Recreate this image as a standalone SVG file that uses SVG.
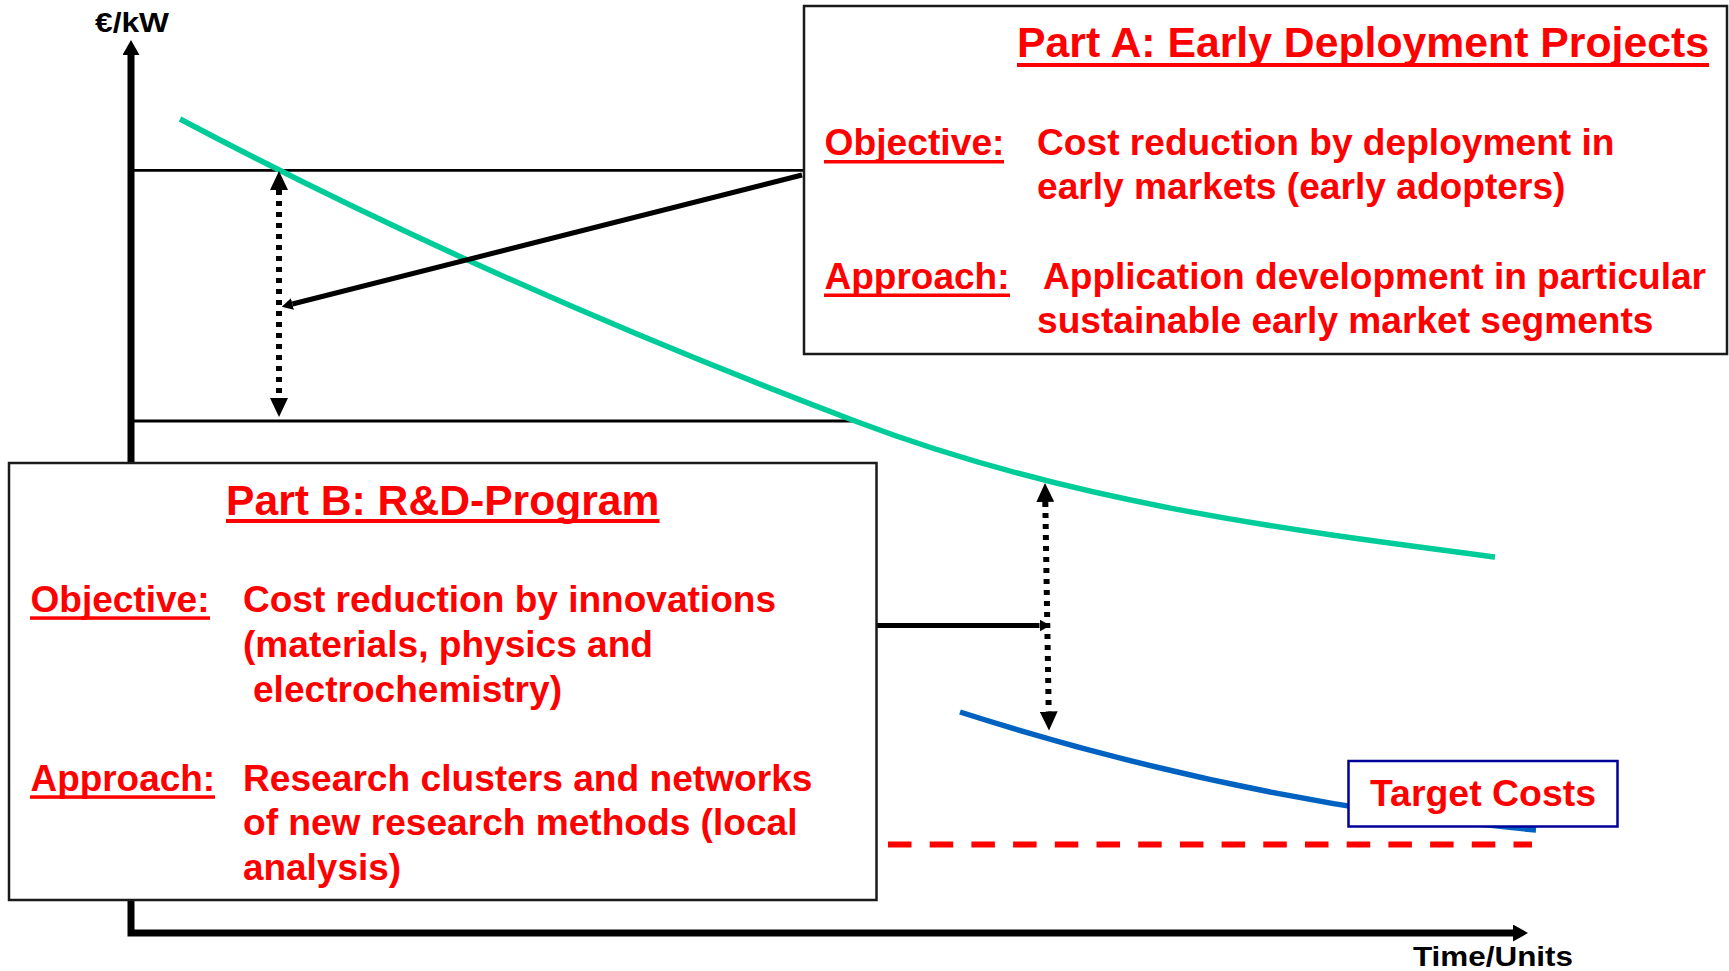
<svg xmlns="http://www.w3.org/2000/svg" width="1729" height="971" viewBox="0 0 1729 971">
<style>
  .t { font-family: "Liberation Sans", Arial, sans-serif; font-weight: bold; fill: #FF0000; font-size: 37px; }
  .ttl { font-size: 42px; }
  .lbl { font-family: "Liberation Sans", Arial, sans-serif; font-weight: bold; fill: #000; font-size: 28.5px; }
  .ul { fill: #FF0000; }
  .box { fill: #FFFFFF; stroke: #1a1a1a; stroke-width: 2.5; }
  .thin { stroke: #000; stroke-width: 2.8; fill: none; }
  .dot { stroke: #000; stroke-width: 6; stroke-dasharray: 5 6; fill: none; marker-start: url(#bigHead); marker-end: url(#bigHead); }
  .conn { stroke: #000; stroke-width: 5; fill: none; marker-end: url(#smallHead); }
</style>
<defs>
  <marker id="bigHead" markerUnits="userSpaceOnUse" markerWidth="20" markerHeight="18" refX="0" refY="9" orient="auto-start-reverse" viewBox="0 0 20 18">
    <polygon points="0,0 19,9 0,18" fill="#000"/>
  </marker>
  <marker id="smallHead" markerUnits="userSpaceOnUse" markerWidth="12" markerHeight="12" refX="0" refY="6" orient="auto" viewBox="0 0 12 12">
    <polygon points="0,0 11,6 0,12" fill="#000"/>
  </marker>
  <marker id="axisHead" markerUnits="userSpaceOnUse" markerWidth="16" markerHeight="17" refX="0" refY="8.5" orient="auto-start-reverse" viewBox="0 0 16 17">
    <polygon points="0,0 15,8.5 0,17" fill="#000"/>
  </marker>
</defs>

<g id="axes">
  <path d="M131,55 V933 H1513" stroke="#000" stroke-width="7" fill="none" stroke-linejoin="miter" marker-start="url(#axisHead)" marker-end="url(#axisHead)"/>
  <text class="lbl" x="95" y="31.5" textLength="74" lengthAdjust="spacingAndGlyphs">€/kW</text>
  <text class="lbl" x="1413" y="966" textLength="160" lengthAdjust="spacingAndGlyphs">Time/Units</text>
</g>

<g id="levels">
  <line class="thin" x1="131" y1="170.3" x2="804" y2="170.3"/>
  <line class="thin" x1="134" y1="421" x2="856" y2="421"/>
</g>

<g id="curves">
  <path id="current-cost-curve" d="M180,119 C405,238.3 630,335.5 855,421 C1068,502 1282,529.3 1495,557" stroke="#00CC99" stroke-width="5.5" fill="none"/>
  <path id="target-cost-curve" d="M960,712 C1152,773.4 1344,812.7 1536,830" stroke="#0062C0" stroke-width="5.5" fill="none"/>
  <line id="target-level" x1="888" y1="844.5" x2="1532" y2="844.5" stroke="#FF0000" stroke-width="6" stroke-dasharray="23.5 18.2"/>
</g>

<g id="connectors">
  <line class="dot" x1="279" y1="190" x2="279" y2="398"/>
  <line class="dot" x1="1045.3" y1="502" x2="1048.7" y2="711.5"/>
  <line class="conn" x1="802" y1="175" x2="292.4" y2="304"/>
  <line class="conn" x1="877" y1="625.5" x2="1039.5" y2="625.5"/>
</g>

<g id="part-a">
  <rect class="box" x="804" y="6" width="923" height="348"/>
  <text class="t ttl" x="1017" y="57" textLength="692" lengthAdjust="spacingAndGlyphs">Part A: Early Deployment Projects</text>
  <rect class="ul" x="1017" y="63" width="692" height="4"/>
  <text class="t" x="824.5" y="155" textLength="180" lengthAdjust="spacingAndGlyphs">Objective:</text>
  <rect class="ul" x="824" y="160" width="180" height="3.5"/>
  <text class="t" x="1037" y="155" textLength="577.5" lengthAdjust="spacingAndGlyphs">Cost reduction by deployment in</text>
  <text class="t" x="1037" y="199" textLength="528.5" lengthAdjust="spacingAndGlyphs">early markets (early adopters)</text>
  <text class="t" x="824.5" y="289" textLength="185" lengthAdjust="spacingAndGlyphs">Approach:</text>
  <rect class="ul" x="824" y="293.5" width="186" height="3.5"/>
  <text class="t" x="1043" y="289" textLength="663" lengthAdjust="spacingAndGlyphs">Application development in particular</text>
  <text class="t" x="1037" y="333" textLength="616.5" lengthAdjust="spacingAndGlyphs">sustainable early market segments</text>
</g>

<g id="part-b">
  <rect class="box" x="9" y="463" width="867.5" height="437"/>
  <text class="t ttl" x="226" y="515" textLength="433.5" lengthAdjust="spacingAndGlyphs">Part B: R&amp;D-Program</text>
  <rect class="ul" x="226" y="519" width="433.5" height="4"/>
  <text class="t" x="30.5" y="612" textLength="179" lengthAdjust="spacingAndGlyphs">Objective:</text>
  <rect class="ul" x="30" y="616.3" width="180" height="3.5"/>
  <text class="t" x="243" y="612" textLength="533" lengthAdjust="spacingAndGlyphs">Cost reduction by innovations</text>
  <text class="t" x="243" y="657" textLength="410" lengthAdjust="spacingAndGlyphs">(materials, physics and</text>
  <text class="t" x="253" y="702" textLength="309" lengthAdjust="spacingAndGlyphs">electrochemistry)</text>
  <text class="t" x="30.5" y="791" textLength="184.5" lengthAdjust="spacingAndGlyphs">Approach:</text>
  <rect class="ul" x="30" y="795.3" width="185" height="3.5"/>
  <text class="t" x="243" y="791" textLength="569.5" lengthAdjust="spacingAndGlyphs">Research clusters and networks</text>
  <text class="t" x="243" y="835" textLength="554.5" lengthAdjust="spacingAndGlyphs">of new research methods (local</text>
  <text class="t" x="243" y="880" textLength="158" lengthAdjust="spacingAndGlyphs">analysis)</text>
</g>

<g id="target-costs">
  <rect x="1348.5" y="761" width="269" height="65.5" fill="#FFFFFF" stroke="#000099" stroke-width="2.5"/>
  <text class="t" x="1370" y="806" textLength="226" lengthAdjust="spacingAndGlyphs">Target Costs</text>
</g>
</svg>
